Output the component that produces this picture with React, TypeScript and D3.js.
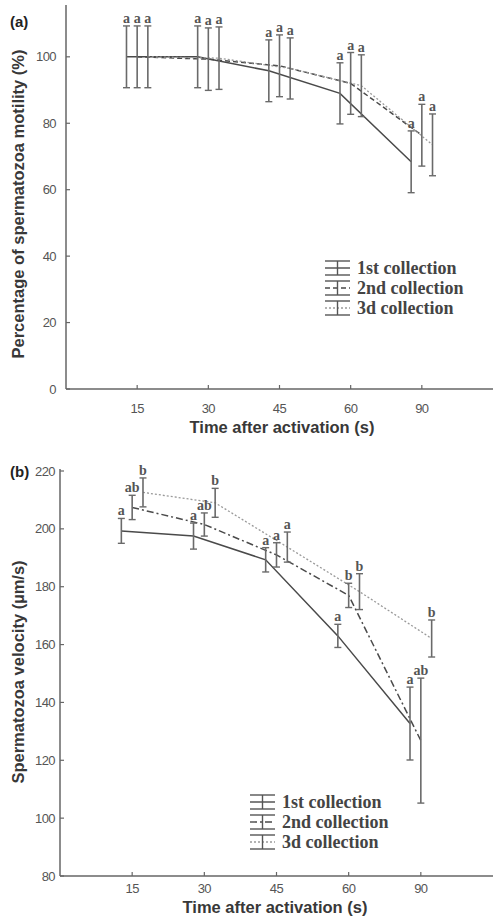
import React, { useEffect, useRef } from 'react';
import * as d3 from 'd3';

// time points (categorical)
const times = ['15', '30', '45', '60', '90'];
const seriesNames = ['1st collection', '2nd collection', '3d collection'];

// (a) motility %
const motility1 = [100, 100, 95.8, 89, 68.4];
const motility2 = [100, 99.3, 97.3, 92, 76.4];
const motility3 = [100, 99.6, 96.5, 91.3, 73.5];
const motilitySd1 = [9.3, 9.3, 9.3, 9.2, 9.3];
const motilitySd2 = [9.3, 9.4, 9.3, 9.3, 9.3];
const motilitySd3 = [9.3, 9.4, 9.2, 9.3, 9.3];
const motilityLetters1 = ['a', 'a', 'a', 'a', 'a'];
const motilityLetters2 = ['a', 'a', 'a', 'a', 'a'];
const motilityLetters3 = ['a', 'a', 'a', 'a', 'a'];
const motilityTicks = [0, 20, 40, 60, 80, 100];

// (b) velocity µm/s
const velocity1 = [199.3, 197.5, 189.3, 163, 132.7];
const velocity2 = [207.4, 201.5, 191, 177, 126.8];
const velocity3 = [212.6, 209, 193.7, 178.3, 162.1];
const velocitySd1 = [4.3, 4.5, 4.2, 4, 12.6];
const velocitySd2 = [4.2, 4, 4.2, 4.2, 21.6];
const velocitySd3 = [5, 5, 5.2, 6.2, 6.4];
const velocityLetters1 = ['a', 'a', 'a', 'a', 'a'];
const velocityLetters2 = ['ab', 'ab', 'a', 'b', 'ab'];
const velocityLetters3 = ['b', 'b', 'a', 'b', 'b'];
const velocityTicks = [80, 100, 120, 140, 160, 180, 200, 220];

const offsets = [-0.15, 0, 0.15];
const lineColors = ['#4a4a4a', '#4a4a4a', '#9a9a9a'];
const errColor = '#6a6a6a';
const axisColor = '#666';

interface Panel {
    label: string;
    yTitle: string;
    means: number[][];
    sds: number[][];
    letters: string[][];
    dashes: string[];
    yDomain: [number, number];
    yTicks: number[];
    left: number;
    top: number;
    bottom: number;
    tickGap: number;
    xTickY: number;
    xTitleX: number;
    xTitleY: number;
    yTitleMid: number;
    legendX: number;
    legendY: number;
    labelY: number;
}

const panels: Panel[] = [
    {
        label: '(a)',
        yTitle: 'Percentage of spermatozoa motility (%)',
        means: [motility1, motility2, motility3],
        sds: [motilitySd1, motilitySd2, motilitySd3],
        letters: [motilityLetters1, motilityLetters2, motilityLetters3],
        dashes: ['none', '5,3', '2,2'],
        yDomain: [0, 115],
        yTicks: motilityTicks,
        left: 66, top: 7, bottom: 389, tickGap: 10,
        xTickY: 413, xTitleX: 282, xTitleY: 433, yTitleMid: 204,
        legendX: 325, legendY: 268, labelY: 27,
    },
    {
        label: '(b)',
        yTitle: 'Spermatozoa velocity (\u00b5m/s)',
        means: [velocity1, velocity2, velocity3],
        sds: [velocitySd1, velocitySd2, velocitySd3],
        letters: [velocityLetters1, velocityLetters2, velocityLetters3],
        dashes: ['none', '7,3,2,3', '2,2'],
        yDomain: [80, 220],
        yTicks: velocityTicks,
        left: 60, top: 471, bottom: 876, tickGap: 5,
        xTickY: 893, xTitleX: 275, xTitleY: 913, yTitleMid: 672,
        legendX: 250, legendY: 802, labelY: 477,
    },
];

const App: React.FC = () => {
    const ref = useRef<SVGSVGElement>(null);

    useEffect(() => {
        if (!ref.current) return;
        const svg = d3.select(ref.current);
        svg.selectAll('*').remove();

        panels.forEach(p => {
            const g = svg.append('g');
            const x = d3.scaleLinear().domain([0, 6]).range([p.left, 493]);
            const y = d3.scaleLinear().domain(p.yDomain).range([p.bottom, p.top]);

            // axes
            g.append('line')
                .attr('x1', p.left).attr('x2', p.left)
                .attr('y1', p.bottom).attr('y2', p.top - 2)
                .attr('stroke', axisColor).attr('stroke-width', 1.5);
            g.append('line')
                .attr('x1', p.left).attr('x2', 493)
                .attr('y1', p.bottom).attr('y2', p.bottom)
                .attr('stroke', axisColor).attr('stroke-width', 1.5);

            p.yTicks.forEach(t => {
                g.append('line')
                    .attr('x1', p.left).attr('x2', p.left + 4)
                    .attr('y1', y(t)).attr('y2', y(t))
                    .attr('stroke', axisColor).attr('stroke-width', 1.2);
                g.append('text')
                    .attr('x', p.left - p.tickGap).attr('y', y(t) + 4.5)
                    .attr('text-anchor', 'end')
                    .style('font-family', 'Liberation Sans, Arial, sans-serif')
                    .style('font-size', '13px')
                    .style('letter-spacing', '-0.6px')
                    .style('fill', '#555')
                    .text(t);
            });

            times.forEach((t, i) => {
                g.append('line')
                    .attr('x1', x(i + 1)).attr('x2', x(i + 1))
                    .attr('y1', p.bottom).attr('y2', p.bottom - 4)
                    .attr('stroke', axisColor).attr('stroke-width', 1.2);
                g.append('text')
                    .attr('x', x(i + 1)).attr('y', p.xTickY)
                    .attr('text-anchor', 'middle')
                    .style('font-family', 'Liberation Sans, Arial, sans-serif')
                    .style('font-size', '13px')
                    .style('letter-spacing', '-0.6px')
                    .style('fill', '#555')
                    .text(t);
            });

            // titles
            g.append('text')
                .attr('x', p.xTitleX).attr('y', p.xTitleY)
                .attr('text-anchor', 'middle')
                .style('font-family', 'Liberation Sans, Arial, sans-serif')
                .style('font-size', '16.5px')
                .style('font-weight', 'bold')
                .style('fill', '#383838')
                .text('Time after activation (s)');
            g.append('text')
                .attr('transform', `translate(24,${p.yTitleMid}) rotate(-90)`)
                .attr('text-anchor', 'middle')
                .style('font-family', 'Liberation Sans, Arial, sans-serif')
                .style('font-size', '16.5px')
                .style('font-weight', 'bold')
                .style('fill', '#383838')
                .text(p.yTitle);
            g.append('text')
                .attr('x', 10).attr('y', p.labelY)
                .style('font-family', 'Liberation Sans, Arial, sans-serif')
                .style('font-size', '15px')
                .style('font-weight', 'bold')
                .style('fill', '#222')
                .text(p.label);

            // lines
            p.means.forEach((vals, s) => {
                const line = d3.line<number>()
                    .x((_, i) => x(i + 1 + offsets[s]))
                    .y(d => y(d));
                g.append('path')
                    .attr('d', line(vals))
                    .attr('fill', 'none')
                    .attr('stroke', lineColors[s])
                    .attr('stroke-width', s === 2 ? 1.3 : 1.5)
                    .attr('stroke-dasharray', p.dashes[s]);
            });

            // error bars + letters
            p.means.forEach((vals, s) => {
                vals.forEach((v, i) => {
                    const cx = x(i + 1 + offsets[s]);
                    const hi = y(v + p.sds[s][i]);
                    const lo = y(v - p.sds[s][i]);
                    g.append('line')
                        .attr('x1', cx).attr('x2', cx).attr('y1', hi).attr('y2', lo)
                        .attr('stroke', errColor).attr('stroke-width', 1.6);
                    [hi, lo].forEach(yy => {
                        g.append('line')
                            .attr('x1', cx - 3.5).attr('x2', cx + 3.5)
                            .attr('y1', yy).attr('y2', yy)
                            .attr('stroke', errColor).attr('stroke-width', 1.4);
                    });
                    g.append('text')
                        .attr('x', cx).attr('y', hi - 3)
                        .attr('text-anchor', 'middle')
                        .style('font-family', 'Liberation Serif, Times New Roman, serif')
                        .style('font-size', '14px')
                        .style('font-weight', 'bold')
                        .style('fill', '#555')
                        .text(p.letters[s][i]);
                });
            });

            // legend
            seriesNames.forEach((name, s) => {
                const cy = p.legendY + s * 20;
                const x0 = p.legendX, x1 = p.legendX + 25, xm = p.legendX + 12.5;
                const lg = g.append('g');
                lg.append('line')
                    .attr('x1', x0).attr('x2', x1).attr('y1', cy).attr('y2', cy)
                    .attr('stroke', lineColors[s]).attr('stroke-width', 1.4)
                    .attr('stroke-dasharray', p.dashes[s]);
                [cy - 7, cy + 7].forEach(yy => {
                    lg.append('line')
                        .attr('x1', x0).attr('x2', x1).attr('y1', yy).attr('y2', yy)
                        .attr('stroke', '#555').attr('stroke-width', 1.4);
                });
                lg.append('line')
                    .attr('x1', xm).attr('x2', xm).attr('y1', cy - 7).attr('y2', cy + 7)
                    .attr('stroke', '#555').attr('stroke-width', 1.4);
                lg.append('text')
                    .attr('x', x1 + 7).attr('y', cy + 5.5)
                    .style('font-family', 'Liberation Serif, Times New Roman, serif')
                    .style('font-size', '18px')
                    .style('font-weight', 'bold')
                    .style('fill', '#444')
                    .text(name);
            });
        });
    }, []);

    return (
        <svg ref={ref} width={493} height={919}
            style={{ position: 'absolute', left: 0, top: 0, background: '#fff' }} />
    );
};

export default App;
